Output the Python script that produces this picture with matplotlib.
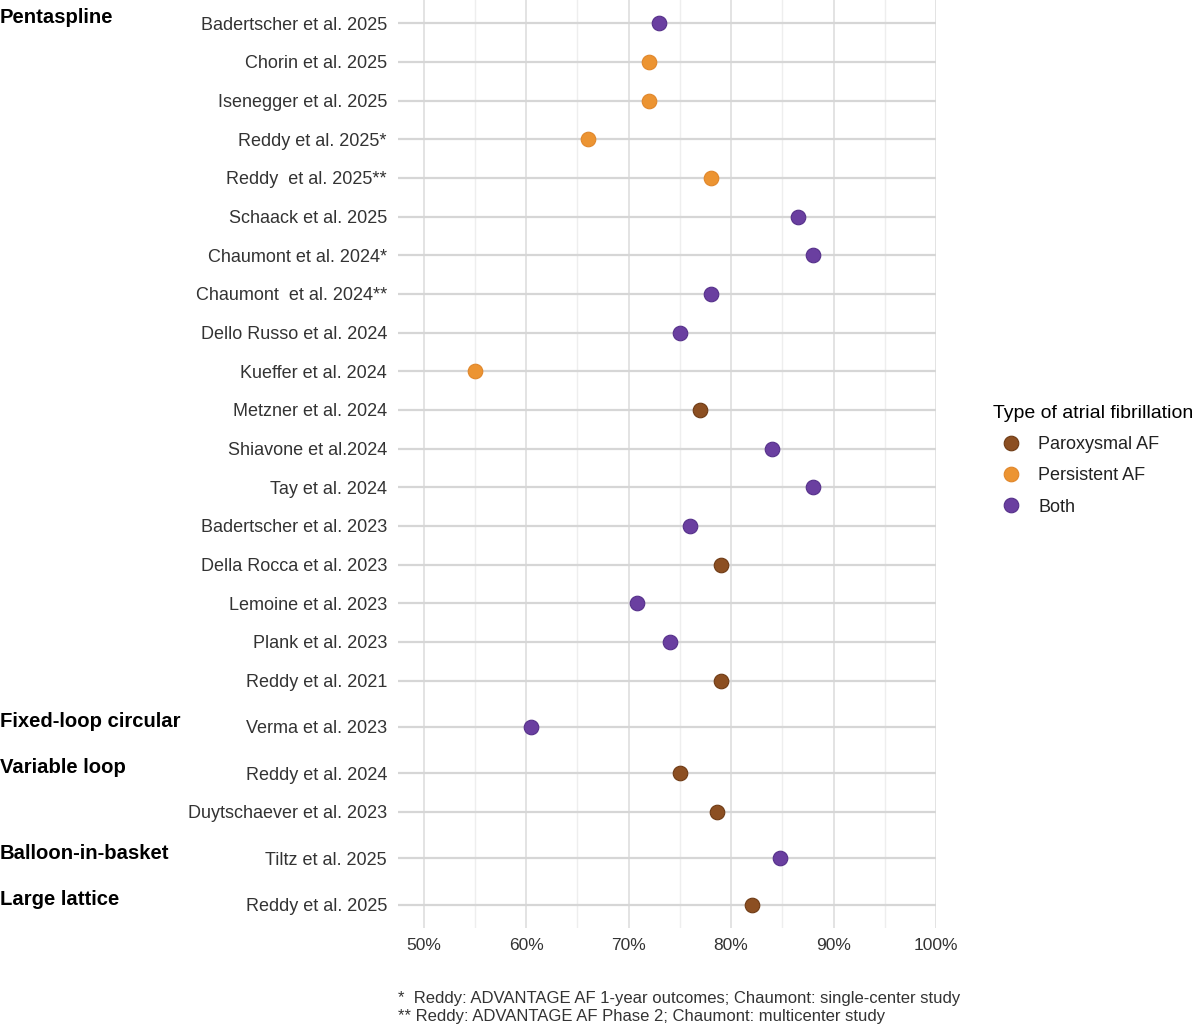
import matplotlib.pyplot as plt
from matplotlib.lines import Line2D
from matplotlib.transforms import blended_transform_factory, ScaledTranslation
import numpy as np

plt.rcParams['font.family'] = ['Liberation Sans', 'DejaVu Sans']

# 데이터
groups = ['Pentaspline', 'Fixed-loop circular', 'Variable loop', 'Balloon-in-basket', 'Large lattice']

studies = {
    'Pentaspline': ['Badertscher et al. 2025', 'Chorin et al. 2025', 'Isenegger et al. 2025',
                    'Reddy et al. 2025*', 'Reddy  et al. 2025**', 'Schaack et al. 2025',
                    'Chaumont et al. 2024*', 'Chaumont  et al. 2024**', 'Dello Russo et al. 2024',
                    'Kueffer et al. 2024', 'Metzner et al. 2024', 'Shiavone et al.2024',
                    'Tay et al. 2024', 'Badertscher et al. 2023', 'Della Rocca et al. 2023',
                    'Lemoine et al. 2023', 'Plank et al. 2023', 'Reddy et al. 2021'],
    'Fixed-loop circular': ['Verma et al. 2023'],
    'Variable loop': ['Reddy et al. 2024', 'Duytschaever et al. 2023'],
    'Balloon-in-basket': ['Tiltz et al. 2025'],
    'Large lattice': ['Reddy et al. 2025'],
}

success = {
    'Pentaspline': [73, 72, 72, 66, 78, 86.5, 88, 78, 75, 55, 77, 84, 88, 76, 79, 70.8, 74, 79],
    'Fixed-loop circular': [60.5],
    'Variable loop': [75, 78.6],
    'Balloon-in-basket': [84.8],
    'Large lattice': [82],
}

af_type = {
    'Pentaspline': ['Both', 'Persistent AF', 'Persistent AF', 'Persistent AF', 'Persistent AF', 'Both',
                    'Both', 'Both', 'Both', 'Persistent AF', 'Paroxysmal AF', 'Both',
                    'Both', 'Both', 'Paroxysmal AF', 'Both', 'Both', 'Paroxysmal AF'],
    'Fixed-loop circular': ['Both'],
    'Variable loop': ['Paroxysmal AF', 'Paroxysmal AF'],
    'Balloon-in-basket': ['Both'],
    'Large lattice': ['Paroxysmal AF'],
}

type_order = ['Paroxysmal AF', 'Persistent AF', 'Both']
fill = {'Paroxysmal AF': '#8c4f22', 'Persistent AF': '#ec9432', 'Both': '#6a3fa0'}
edge = {'Paroxysmal AF': '#6e3a14', 'Persistent AF': '#e0862a', 'Both': '#55308a'}

fig = plt.figure(figsize=(12, 10.24), dpi=100)
heights = [len(studies[g]) - 1 + 1.2 for g in groups]
gs = fig.add_gridspec(len(groups), 1, height_ratios=heights, hspace=0,
                      left=398 / 1200, right=936 / 1200, top=1.0, bottom=1 - 928 / 1024)

for i, g in enumerate(groups):
    ax = fig.add_subplot(gs[i])
    n = len(studies[g])
    y = np.arange(n)
    for t in type_order:
        m = np.array([a == t for a in af_type[g]])
        if m.any():
            ax.scatter(np.array(success[g])[m], y[m], s=110, color=fill[t],
                       edgecolor=edge[t], linewidth=0.8, zorder=3)
    ax.set_ylim(n - 1 + 0.6, -0.6)
    ax.set_xlim(47.5, 100)
    ax.set_yticks(y)
    ax.set_yticklabels(studies[g], fontsize=13, color='#333333')
    ax.set_xticks(np.arange(50, 101, 10))
    ax.set_xticks(np.arange(55, 100, 10), minor=True)
    ax.grid(axis='x', which='major', color='#e3e3e3', linewidth=1.4, zorder=0)
    ax.grid(axis='x', which='minor', color='#eeeeee', linewidth=1.0, zorder=0)
    ax.grid(axis='y', which='major', color='#d6d6d6', linewidth=1.6, zorder=0)
    ax.tick_params(axis='both', which='both', length=0)
    ax.tick_params(axis='y', pad=8)
    for s in ax.spines.values():
        s.set_visible(False)
    if i < len(groups) - 1:
        ax.tick_params(axis='x', labelbottom=False)
    else:
        ax.set_xticklabels([f'{v}%' for v in range(50, 101, 10)], fontsize=12.5, color='#333333')
        ax.tick_params(axis='x', pad=7)
    # 패싯 라벨 (왼쪽 위)
    tr = blended_transform_factory(fig.transFigure, ax.transAxes)
    ax.text(0.0, 1.0, g, transform=tr + ScaledTranslation(0, -6 / 72, fig.dpi_scale_trans),
            ha='left', va='top', fontsize=14.6, fontweight='bold', color='black')

handles = [Line2D([], [], marker='o', linestyle='', markersize=10.5, markerfacecolor=fill[t],
                  markeredgecolor=edge[t], markeredgewidth=0.8) for t in type_order]
leg = fig.legend(handles, type_order, title='Type of atrial fibrillation', loc='upper left',
                 bbox_to_anchor=(977 / 1200, 1 - 389 / 1024), frameon=False, fontsize=13,
                 title_fontsize=14, handletextpad=0.5, labelspacing=0.78, alignment='left')
for t in leg.get_texts():
    t.set_color('#222222')

fig.text(398 / 1200, 1 - 998 / 1024, '*  Reddy: ADVANTAGE AF 1-year outcomes; Chaumont: single-center study',
         ha='left', va='center', fontsize=12, color='#333333')
fig.text(398 / 1200, 1 - 1016 / 1024, '** Reddy: ADVANTAGE AF Phase 2; Chaumont: multicenter study',
         ha='left', va='center', fontsize=12, color='#333333')

fig.savefig('out.png', dpi=100)
